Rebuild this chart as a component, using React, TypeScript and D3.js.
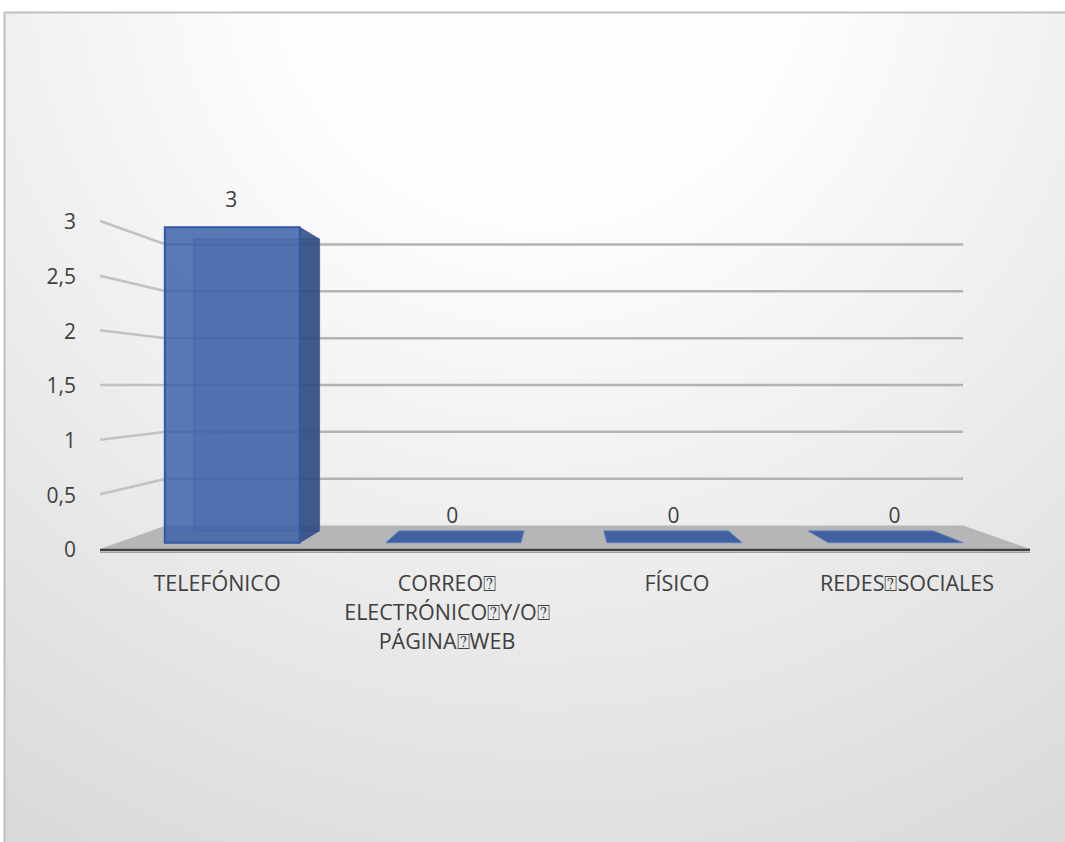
import React from "react";
import * as d3 from "d3";

// ── Datos ──────────────────────────────────────────────────────────────
const Q = "\u2370";
const categories = ["TELEFÓNICO", `CORREO${Q} ELECTRÓNICO${Q}Y/O${Q} PÁGINA${Q}WEB`, "FÍSICO", `REDES${Q}SOCIALES`];
const labelLines = [
  ["TELEFÓNICO"],
  [`CORREO${Q}`, `ELECTRÓNICO${Q}Y/O${Q}`, `PÁGINA${Q}WEB`],
  ["FÍSICO"],
  [`REDES${Q}SOCIALES`],
];
const values = [3, 0, 0, 0];
const yTicks = [0, 0.5, 1, 1.5, 2, 2.5, 3];

const W = 1065;
const H = 842;
const FONT = "'Open Sans', 'DejaVu Sans', sans-serif";

// plano frontal
const xFloor: [number, number] = [100, 1030];
const yScale = d3.scaleLinear().domain([0, 3]).range([549, 221]);
const xBand = d3.scaleBand<number>().domain(d3.range(categories.length)).range([104, 1024]).paddingInner(0.39).paddingOuter(0.195);

// perspectiva simple: punto de fuga en (CX, CY), fondo escalado por K
const CX = 562;
const CY = 385;
const K = 0.857;
const D0 = 0.27;
const D1 = 0.77;
const proj = (x: number, v: number, d: number): [number, number] => {
  const f = 1 - d * (1 - K);
  return [CX + (x - CX) * f, CY + (yScale(v) - CY) * f];
};
const pts = (arr: [number, number][]) => arr.map((p) => p.join(",")).join(" ");
const fmt = d3.formatLocale({ decimal: ",", thousands: ".", grouping: [3], currency: ["", "€"] }).format("~g");

const Bar: React.FC<{ i: number; v: number }> = ({ i, v }) => {
  const x0 = xBand(i)!;
  const x1 = x0 + xBand.bandwidth();
  const fbl = proj(x0, 0, D0), fbr = proj(x1, 0, D0), ftl = proj(x0, v, D0), ftr = proj(x1, v, D0);
  const bbl = proj(x0, 0, D1), bbr = proj(x1, 0, D1), btr = proj(x1, v, D1), btl = proj(x0, v, D1);
  const leftOfCenter = (x0 + x1) / 2 < CX;
  if (v === 0) {
    return (
      <polygon points={pts([fbl, fbr, bbr, bbl])} fill="#41609f" stroke="#5a7bbd" strokeWidth={1} />
    );
  }
  return (
    <g>
      <polygon points={pts([bbl, bbr, btr, btl])} fill="#3d63a8" fillOpacity={0.3} stroke="#4a72c0" strokeWidth={2} strokeOpacity={0.5} />
      {leftOfCenter ? (
        <polygon points={pts([fbr, bbr, btr, ftr])} fill="#2f4a80" fillOpacity={0.88} stroke="#3a5a9c" strokeWidth={1} />
      ) : (
        <polygon points={pts([fbl, bbl, btl, ftl])} fill="#2f4a80" fillOpacity={0.88} stroke="#3a5a9c" strokeWidth={1} />
      )}
      <polygon points={pts([fbl, fbr, ftr, ftl])} fill="#3d63a8" fillOpacity={0.85} stroke="#3159a6" strokeWidth={2} />
    </g>
  );
};

export default function App() {
  const floorF0 = proj(xFloor[0], 0, 0), floorF1 = proj(xFloor[1], 0, 0);
  const floorB0 = proj(xFloor[0], 0, 1), floorB1 = proj(xFloor[1], 0, 1);
  return (
    <div style={{ position: "absolute", left: 0, top: 0, width: W, height: H, overflow: "hidden" }}>
      <svg width={W} height={H} viewBox={`0 0 ${W} ${H}`} style={{ display: "block" }}>
        <defs>
          <radialGradient id="bg" gradientUnits="userSpaceOnUse" cx={540} cy={-40} r={1050}>
            <stop offset="0" stopColor="#ffffff" />
            <stop offset="0.25" stopColor="#fdfdfd" />
            <stop offset="1" stopColor="#d8d8d8" />
          </radialGradient>
        </defs>
        <rect x={0} y={0} width={W} height={H} fill="#ffffff" />
        <rect x={4.5} y={12.5} width={W + 10} height={H + 10} fill="url(#bg)" stroke="#bfbfbf" strokeWidth={2} />

        {/* paredes: líneas de cuadrícula */}
        {yTicks.filter((t) => t > 0).map((t) => {
          const a = proj(xFloor[0], t, 0), b = proj(xFloor[0], t, 1), c = proj(xFloor[1], t, 1);
          return (
            <g key={t}>
              <line x1={a[0]} y1={a[1]} x2={b[0]} y2={b[1]} stroke="#c2c2c2" strokeWidth={2.5} />
              <line x1={b[0]} y1={b[1]} x2={c[0]} y2={c[1]} stroke="#b3b3b3" strokeWidth={2.5} />
            </g>
          );
        })}

        {/* piso */}
        <polygon points={pts([floorF0, floorF1, floorB1, floorB0])} fill="#b6b6b6" />
        <line x1={xFloor[0]} y1={550} x2={xFloor[1]} y2={550} stroke="#404040" strokeWidth={2.5} />
        <line x1={xFloor[0]} y1={552.5} x2={xFloor[1]} y2={552.5} stroke="#a0a0a0" strokeWidth={1} />

        {values.map((v, i) => <Bar key={i} i={i} v={v} />)}

        {/* etiquetas de datos */}
        {values.map((v, i) => {
          const p = proj(xBand(i)! + xBand.bandwidth() / 2, v, D0);
          return (
            <text key={i} x={p[0] - 1} y={p[1] - 20} textAnchor="middle" fontFamily={FONT} fontSize={21} fill="#404040">
              {fmt(v)}
            </text>
          );
        })}

        {/* eje Y */}
        {yTicks.map((t) => (
          <text key={t} x={76} y={yScale(t) + 1} dy="0.35em" textAnchor="end" fontFamily={FONT} fontSize={21} fill="#404040">
            {fmt(t)}
          </text>
        ))}

        {/* categorías */}
        {labelLines.map((lines, i) => {
          const cx = xBand(i)! + xBand.bandwidth() / 2 - 2;
          return (
            <text key={i} x={cx} y={591} textAnchor="middle" fontFamily={FONT} fontSize={21.5} fill="#404040">
              {lines.map((l, j) => (
                <tspan key={j} x={cx} dy={j === 0 ? 0 : 29}>{l}</tspan>
              ))}
            </text>
          );
        })}
      </svg>
    </div>
  );
}
